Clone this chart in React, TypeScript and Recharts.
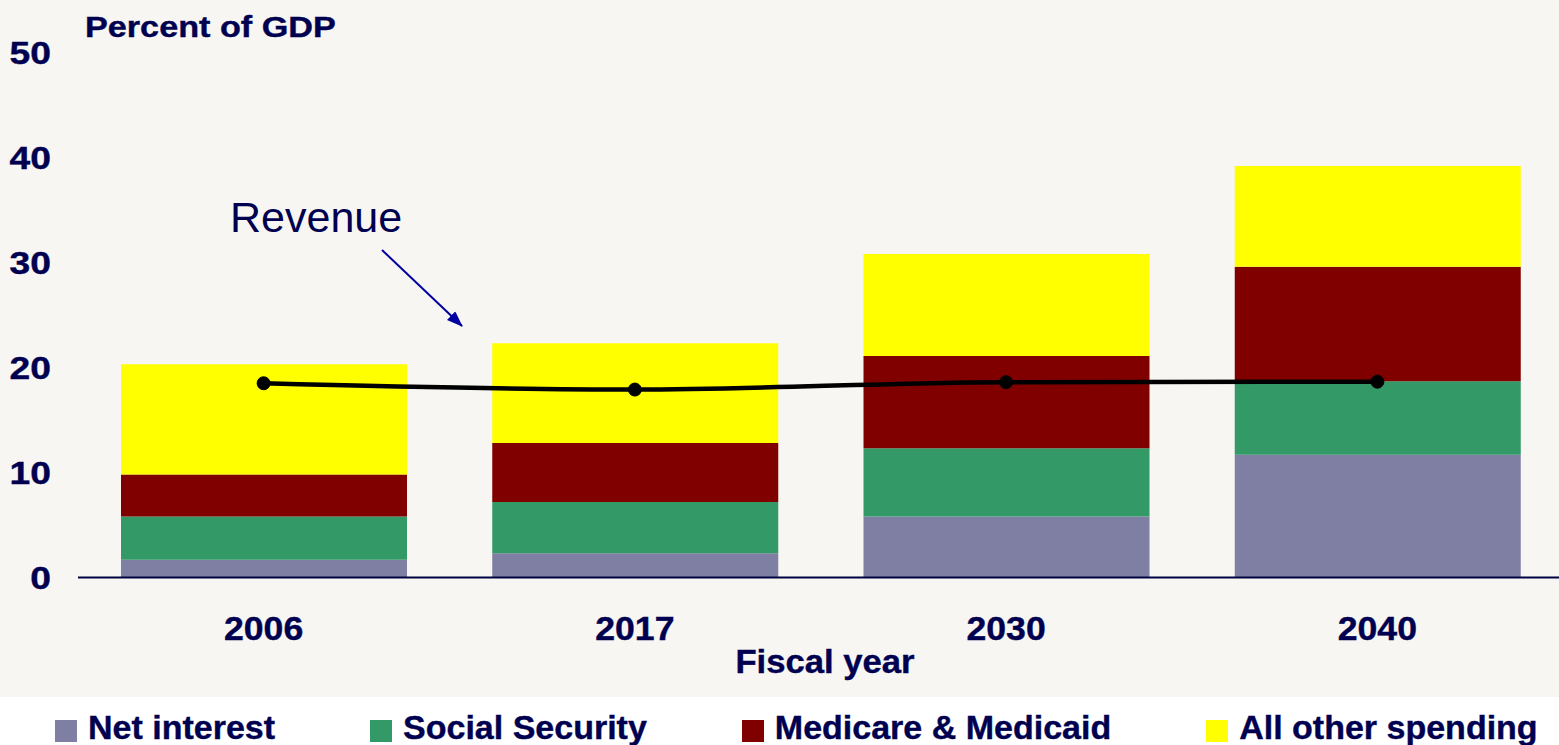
import { ComposedChart, Bar, Line, XAxis, YAxis } from 'recharts';

const years = ['2006', '2017', '2030', '2040'];
const netInterest = [1.7, 2.3, 5.8, 11.7];
const socialSecurity = [4.1, 4.9, 6.5, 7.0];
const medicare = [4.0, 5.6, 8.8, 10.9];
const otherSpending = [10.5, 9.5, 9.7, 9.6];
const revenue = [18.5, 17.9, 18.6, 18.65];
const yTicks = [0, 10, 20, 30, 40, 50];

const series = [
  { key: 'netInterest', name: 'Net interest', color: '#7f7fa3' },
  { key: 'socialSecurity', name: 'Social Security', color: '#339966' },
  { key: 'medicare', name: 'Medicare & Medicaid', color: '#800000' },
  { key: 'otherSpending', name: 'All other spending', color: '#ffff00' },
];

const data = years.map((year, i) => ({
  year,
  netInterest: netInterest[i],
  socialSecurity: socialSecurity[i],
  medicare: medicare[i],
  otherSpending: otherSpending[i],
  revenue: revenue[i],
}));

const NAVY = '#000050';
const FONT = '"Liberation Sans", Arial, sans-serif';

// text stretched a bit wider, like the slide it came from
const WideText = ({ x, y, sx = 1.1, anchor = 'start', size = 32, weight = 700, children }: any) => (
  <text
    transform={`translate(${x},${y}) scale(${sx},1)`}
    textAnchor={anchor}
    fontFamily={FONT}
    fontSize={size}
    fontWeight={weight}
    fill={NAVY}
    stroke={NAVY}
    strokeWidth={0.4}
  >
    {children}
  </text>
);

const YTick = ({ x, y, payload }: any) => (
  <WideText x={x} y={y + 11} sx={1.2} anchor="end" size={31}>
    {payload.value}
  </WideText>
);

const XTick = ({ x, y, payload }: any) => (
  <WideText x={x} y={y + 46} sx={1.08} anchor="middle" size={33}>
    {payload.value}
  </WideText>
);

export default function App() {
  return (
    <div
      style={{
        position: 'absolute',
        left: 0,
        top: 0,
        width: 1559,
        height: 745,
        overflow: 'hidden',
        background: '#f8f6f2',
      }}
    >
      <div style={{ position: 'absolute', left: 0, top: 697, width: 1559, height: 48, background: '#ffffff' }} />
      <div style={{ position: 'absolute', left: 0, top: 0 }}>
        <ComposedChart
          width={1563}
          height={745}
          data={data}
          margin={{ top: 52.5, right: 0, bottom: 107.5, left: 0 }}
        >
          <XAxis
            dataKey="year"
            height={60}
            axisLine={{ stroke: '#000040', strokeWidth: 2 }}
            tickLine={false}
            tickSize={0}
            tickMargin={16}
            tick={<XTick />}
            interval={0}
          />
          <YAxis
            domain={[0, 50]}
            ticks={yTicks}
            width={78}
            axisLine={false}
            tickLine={false}
            tickSize={0}
            tickMargin={27}
            tick={<YTick />}
            interval={0}
          />
          {series.map((s) => (
            <Bar
              key={s.key}
              dataKey={s.key}
              name={s.name}
              stackId="spending"
              fill={s.color}
              barSize={286}
              isAnimationActive={false}
            />
          ))}
          <Line
            type="monotone"
            dataKey="revenue"
            name="Revenue"
            stroke="#000000"
            strokeWidth={4.5}
            dot={{ r: 6.5, fill: '#000000', stroke: '#000000', strokeWidth: 1 }}
            isAnimationActive={false}
          />
        </ComposedChart>
      </div>

      {/* titles and the revenue callout */}
      <svg
        width={1559}
        height={745}
        style={{ position: 'absolute', left: 0, top: 0, pointerEvents: 'none' }}
      >
        <defs>
          <marker id="arrowHead" markerWidth="16" markerHeight="12" refX="15" refY="6" orient="auto" markerUnits="userSpaceOnUse">
            <path d="M0,0 L16,6 L0,12 Z" fill="#0000a0" />
          </marker>
        </defs>
        <WideText x={85} y={37} sx={1.14} size={30}>
          Percent of GDP
        </WideText>
        <WideText x={825} y={673} sx={1.05} anchor="middle" size={33}>
          Fiscal year
        </WideText>
        <text x={230} y={232} fontFamily={FONT} fontSize={43} fill={NAVY}>
          Revenue
        </text>
        <line
          x1={382}
          y1={250}
          x2={462}
          y2={326}
          stroke="#0000a0"
          strokeWidth={2}
          markerEnd="url(#arrowHead)"
        />
      </svg>

      {/* legend */}
      <div
        style={{
          position: 'absolute',
          left: 55,
          top: 708,
          display: 'flex',
          gap: 95,
          fontFamily: FONT,
          fontWeight: 700,
          fontSize: 34,
          color: NAVY,
          WebkitTextStroke: `0.4px ${NAVY}`,
          whiteSpace: 'nowrap',
        }}
      >
        {series.map((s) => (
          <div key={s.key} style={{ display: 'flex', alignItems: 'center' }}>
            <span style={{ display: 'inline-block', width: 22, height: 22, background: s.color, marginRight: 11, marginTop: 6 }} />
            <span>{s.name}</span>
          </div>
        ))}
      </div>
    </div>
  );
}
